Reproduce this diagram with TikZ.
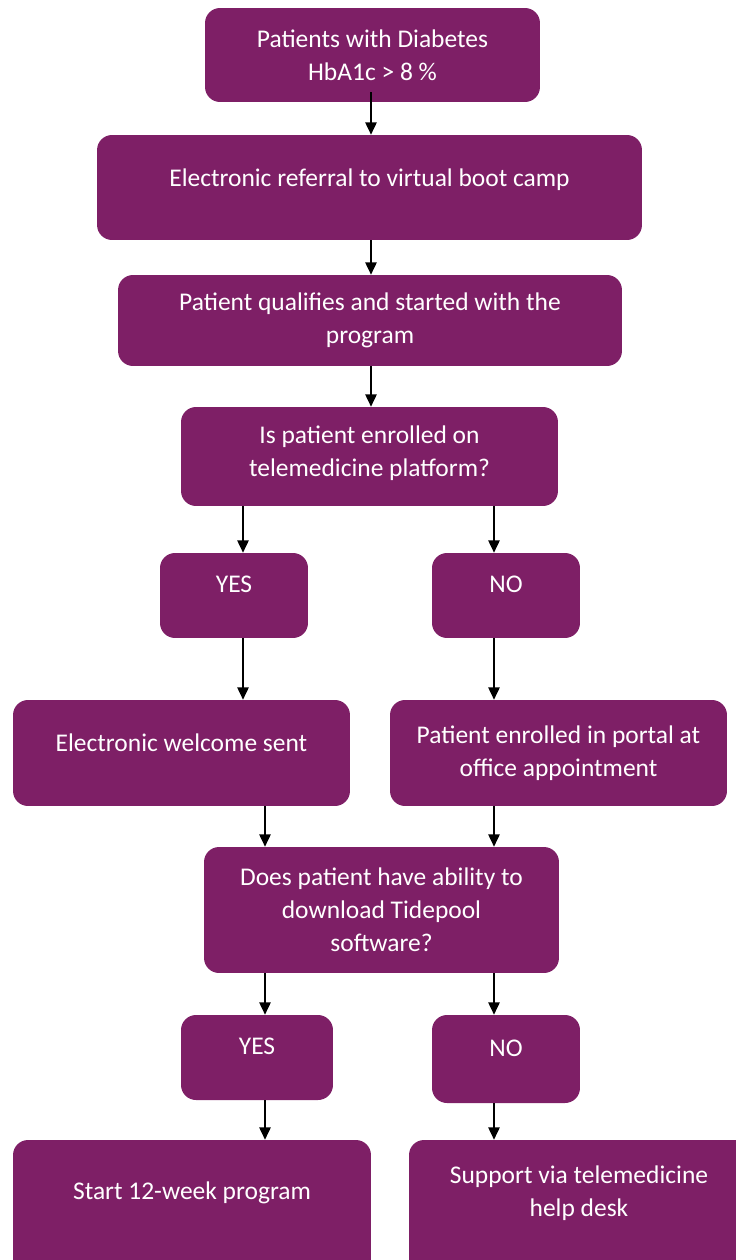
\documentclass[tikz,border=0pt]{standalone}
\usepackage{fontspec}
\setmainfont{Carlito}
\usetikzlibrary{arrows.meta}
\definecolor{plum}{HTML}{7E1F66}
\tikzset{
  box/.style = {fill=plum, rounded corners=0.3cm, text=white, align=center, inner sep=0pt,
                font=\fontsize{14.5}{18.7}\selectfont},
  raise/.style = {text depth=#1},
  arr/.style = {-{Triangle[length=7pt,width=6.5pt]}, line width=0.8pt}
}
\begin{document}
\begin{tikzpicture}[x=0.02cm, y=-0.02cm]
      \useasboundingbox (0,0) rectangle (736,1260);
      \node [box, minimum width=6.7cm, minimum height=1.88cm] (diab) at (372.5,55) {Patients with Diabetes\\HbA1c > 8 \%};
      \node [box, minimum width=10.9cm, minimum height=2.1cm, raise=11.5pt] (refer) at (369.5,187.5) {Electronic referral to virtual boot camp};
      \node [box, minimum width=10.08cm, minimum height=1.82cm] (qualify) at (370,320.5) {Patient qualifies and started with the\\program};
      \node [box, minimum width=7.54cm, minimum height=1.98cm, raise=6pt] (enrolq) at (369.5,456.5) {Is patient enrolled on\\telemedicine platform?};
      \node [box, minimum width=2.96cm, minimum height=1.7cm, raise=13pt] (yesa) at (234,595.5) {YES};
      \node [box, minimum width=2.96cm, minimum height=1.7cm, raise=13pt] (noa) at (506,595.5) {NO};
      \node [box, minimum width=6.74cm, minimum height=2.12cm, raise=12pt] (welcome) at (181.5,753) {Electronic welcome sent};
      \node [box, minimum width=6.74cm, minimum height=2.12cm] (portal) at (558.5,753) {Patient enrolled in portal at\\office appointment};
      \node [box, minimum width=7.1cm, minimum height=2.52cm] (tidepool) at (381.5,910) {Does patient have ability to\\download Tidepool\\software?};
      \node [box, minimum width=3.04cm, minimum height=1.7cm, raise=13pt] (yesb) at (257,1057.5) {YES};
      \node [box, minimum width=2.96cm, minimum height=1.76cm, raise=12pt] (nob) at (506,1059) {NO};
      \node [box, minimum width=7.16cm, minimum height=2.7cm, raise=19pt] (start) at (192,1207.5) {Start 12-week program};
      \node [box, minimum width=6.8cm, minimum height=2.7cm, raise=19pt] (helpdesk) at (579,1207.5) {Support via telemedicine\\help desk};
      \coordinate (mid) at (371,0);
      \coordinate (left) at (243,0);
      \coordinate (right) at (494,0);
      \coordinate (inner) at (265,0);
      \draw [arr] ([yshift=0.2cm]diab.south -| mid) -- (refer.north -| mid);
      \draw [arr] (refer.south -| mid) -- (qualify.north -| mid);
      \draw [arr] (qualify.south -| mid) -- (enrolq.north -| mid);
      \draw [arr] (enrolq.south -| left) -- (yesa.north -| left);
      \draw [arr] (enrolq.south -| right) -- (noa.north -| right);
      \draw [arr] (yesa.south -| left) -- (welcome.north -| left);
      \draw [arr] (noa.south -| right) -- (portal.north -| right);
      \draw [arr] (welcome.south -| inner) -- (tidepool.north -| inner);
      \draw [arr] (portal.south -| right) -- (tidepool.north -| right);
      \draw [arr] (tidepool.south -| inner) -- (yesb.north -| inner);
      \draw [arr] (tidepool.south -| right) -- (nob.north -| right);
      \draw [arr] (yesb.south -| inner) -- (start.north -| inner);
      \draw [arr] (nob.south -| right) -- (helpdesk.north -| right);
\end{tikzpicture}
\end{document}
